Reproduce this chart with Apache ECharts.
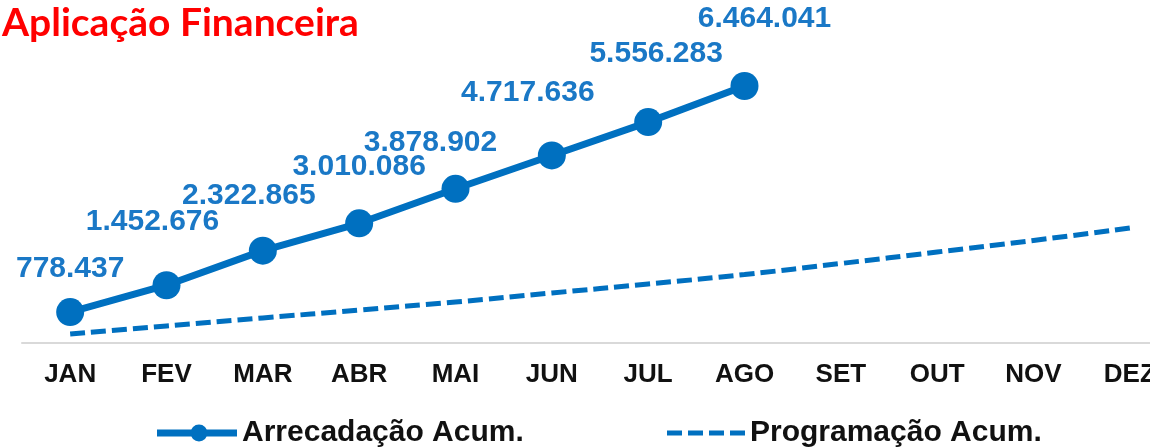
<!DOCTYPE html>
<html>
<head>
<meta charset="utf-8">
<script src="https://cdn.jsdelivr.net/npm/echarts@6/dist/echarts.min.js"></script>
<style>
  html, body { margin: 0; padding: 0; background: #fff; }
  #chart { width: 1150px; height: 448px; }
</style>
</head>
<body>
<div id="chart"></div>
<script>
const months = ["JAN", "FEV", "MAR", "ABR", "MAI", "JUN", "JUL", "AGO", "SET", "OUT", "NOV", "DEZ"]
const arrecadacao = [778437, 1452676, 2322865, 3010086, 3878902, 4717636, 5556283, 6464041, null, null, null, null]
const programacao = [226000, 428000, 629000, 830000, 1031000, 1258000, 1484000, 1723000, 2000000, 2289000, 2579000, 2893000]

// label nudges, the labels in the original are placed by hand
const labelOffsets = [[0, -43], [-14, -64], [-14, -55], [0, -57], [-25, -46], [-24, -63], [8, -68], [20, -67]]

const blue = "#0070c0"
const font = "'Liberation Sans', Arial, sans-serif"

// legend icons: solid line with a dot, and four dashes
const iconLineDot = "path://M0 4.5H80V11.5H0Z M50.5 8A8.5 8.5 0 1 1 33.5 8A8.5 8.5 0 1 1 50.5 8Z"
const iconDashes = "path://M0 0H15V5H0Z M21 0H36V5H21Z M42 0H57V5H42Z M63 0H78V5H63Z"

function fmt(v) {
  return String(v).replace(/\B(?=(\d{3})+(?!\d))/g, ".")
}

const chart = echarts.init(document.getElementById("chart"))

const arrData = arrecadacao.map((v, i) => {
  if (v == null) return null
  return {
    value: v,
    label: { offset: labelOffsets[i] || [0, -50] },
  }
})

const legendText = { color: "#111", fontFamily: font, fontWeight: "bold", fontSize: 30 }

const option = {
  animation: false,
  title: {
    text: "Aplicação Financeira",
    left: -3,
    top: -1,
    textStyle: {
      color: "#ff0000",
      fontFamily: "Lato, 'Open Sans', sans-serif",
      fontWeight: "bold",
      fontSize: 39,
    },
  },
  legend: [
    {
      data: [{ name: "Arrecadação Acum.", icon: iconLineDot }],
      left: 152,
      top: 413,
      itemWidth: 80,
      itemHeight: 17,
      itemStyle: { color: blue },
      textStyle: legendText,
    },
    {
      data: [{ name: "Programação Acum.", icon: iconDashes }],
      left: 662,
      top: 413,
      itemWidth: 78,
      itemHeight: 5,
      itemStyle: { color: blue },
      textStyle: legendText,
    },
  ],
  grid: {
    left: 22,
    width: 1156,
    top: 64.7,
    bottom: 105,
    outerBoundsMode: "none",
    containLabel: false,
  },
  xAxis: {
    type: "category",
    data: months,
    boundaryGap: true,
    axisTick: { show: false },
    axisLine: { show: true, lineStyle: { color: "#d9d9d9", width: 2 } },
    axisLabel: {
      color: "#111",
      fontFamily: font,
      fontWeight: "bold",
      fontSize: 26,
      margin: 19,
      interval: 0,
    },
  },
  yAxis: {
    type: "value",
    min: 0,
    max: 7000000,
    show: false,
    splitLine: { show: false },
  },
  series: [
    {
      name: "Arrecadação Acum.",
      type: "line",
      data: arrData,
      symbol: "circle",
      symbolSize: 28,
      itemStyle: { color: blue },
      lineStyle: { color: blue, width: 7 },
      label: {
        show: true,
        position: "inside",
        formatter: (p) => fmt(p.value),
        color: "#1a78c6",
        fontFamily: font,
        fontWeight: "bold",
        fontSize: 30,
      },
      z: 3,
    },
    {
      name: "Programação Acum.",
      type: "line",
      data: programacao,
      symbol: "none",
      smooth: true,
      itemStyle: { color: blue },
      lineStyle: { color: blue, width: 5, type: [15, 6] },
      z: 2,
    },
  ],
}

chart.setOption(option)
</script>
</body>
</html>
